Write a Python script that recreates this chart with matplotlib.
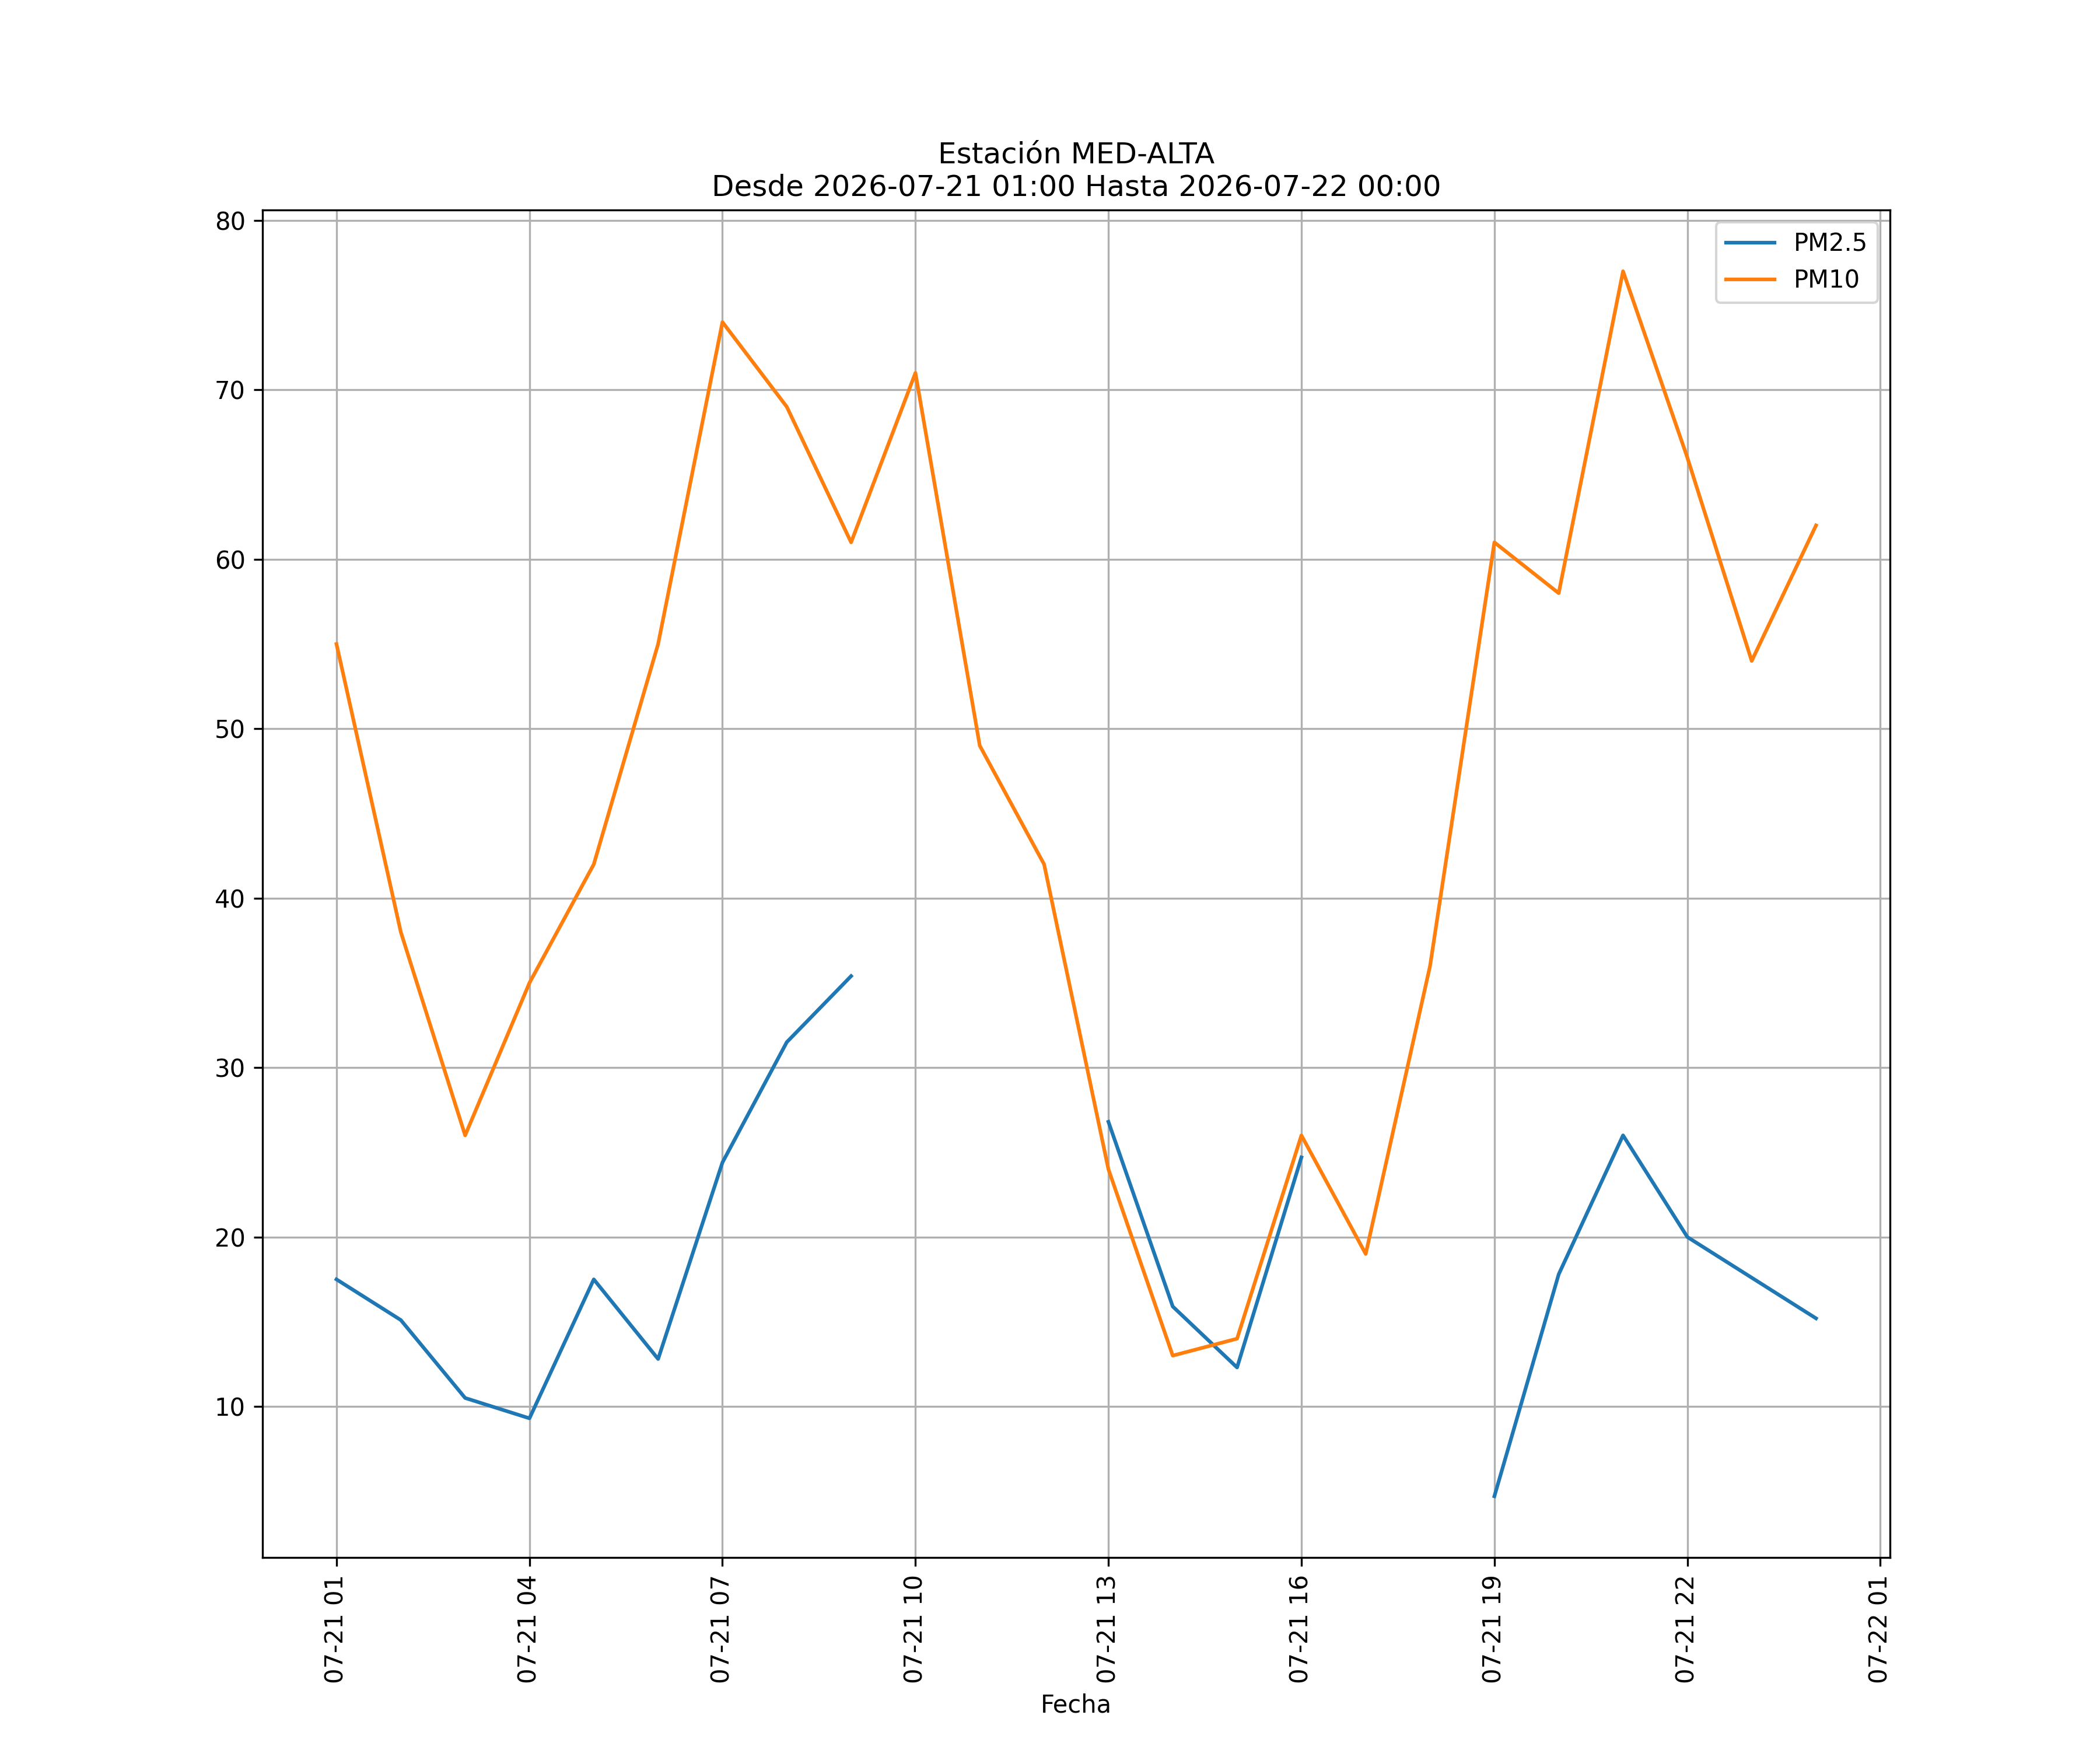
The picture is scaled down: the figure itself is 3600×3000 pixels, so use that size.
import numpy as np
import pandas as pd
import matplotlib
matplotlib.use("Agg")
import matplotlib.pyplot as plt
import matplotlib.dates as mdates

times = pd.date_range("2026-07-21 01:00", "2026-07-22 00:00", freq="h")
pm25 = [17.5, 15.1, 10.5, 9.3, 17.5, 12.8, 24.4, 31.5, 35.4, np.nan, np.nan, np.nan,
        26.8, 15.9, 12.3, 24.7, np.nan, np.nan, 4.7, 17.8, 26.0, 20.0, 17.6, 15.2]
pm10 = [55, 38, 26, 35, 42, 55, 74, 69, 61, 71, 49, 42,
        24, 13, 14, 26, 19, 36, 61, 58, 77, 66, 54, 62]

fig, ax = plt.subplots(figsize=(12, 10), dpi=300)
ax.plot(times, pm25, label="PM2.5")
ax.plot(times, pm10, label="PM10")
ax.xaxis.set_major_locator(mdates.HourLocator(byhour=range(1, 24, 3)))
ax.xaxis.set_major_formatter(mdates.DateFormatter("%m-%d %H"))
plt.setp(ax.get_xticklabels(), rotation=90)
ax.set_xlabel("Fecha")
ax.set_title("Estación MED-ALTA\nDesde 2026-07-21 01:00 Hasta 2026-07-22 00:00")
ax.grid(True)
ax.legend(loc="upper right")
fig.savefig("out.png")
